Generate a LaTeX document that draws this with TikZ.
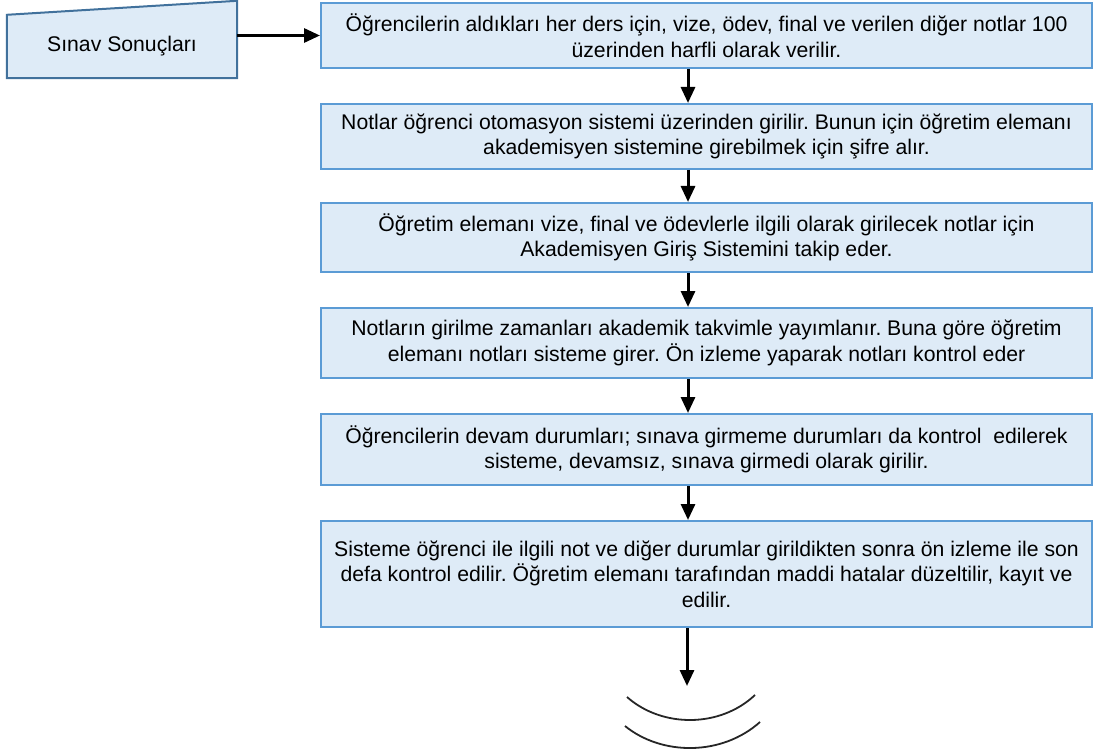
\documentclass[tikz,border=0pt]{standalone}
\usepackage{fontspec}
\setmainfont{Liberation Sans}
\usepackage{xcolor}
\usepackage{tikz}
\usetikzlibrary{arrows.meta,positioning,calc,backgrounds}

\definecolor{boxfill}{HTML}{DEEBF7}
\definecolor{boxline}{HTML}{5B9BD5}
\definecolor{inpline}{HTML}{41719C}
\frenchspacing

\begin{document}
\begin{tikzpicture}[
    x=1pt, y=1pt,
    font=\fontsize{21.2}{25.5}\selectfont,
    stepbox/.style={rectangle, draw=boxline, fill=boxfill, line width=2pt, align=center, minimum width=771pt, inner sep=4pt},
    inbox/.style={rectangle, align=center, minimum width=230pt, minimum height=63pt, inner sep=0pt},
    arrow/.style={-{Triangle[length=16pt, width=14pt]}, line width=3pt, draw=black}
]
    \useasboundingbox (0,0) rectangle (1094,-754);

    % manual input
    \node [inbox] (inp) at (122,-46.5) {S\i nav Sonuçları};
    \begin{scope}[on background layer]
        \filldraw [draw=inpline, fill=boxfill, line width=2pt] (inp.south west) -- (inp.south east) -- ($(inp.north east)+(0,14)$) -- (inp.north west) -- cycle;
    \end{scope}

    % process boxes
    \node [stepbox, minimum height=65pt] (b1) at (706.5,-35.5) {Öğrencilerin aldıkları her ders için, vize, ödev, final ve verilen diğer notlar 100\\üzerinden harfli olarak verilir.};
    \node [stepbox, minimum height=65pt, below=34pt of b1] (b2) {Notlar öğrenci otomasyon sistemi üzerinden girilir. Bunun için öğretim elemanı\\akademisyen sistemine girebilmek için şifre alır.};
    \node [stepbox, minimum height=69pt, below=32pt of b2] (b3) {Öğretim elemanı vize, final ve ödevlerle ilgili olarak girilecek notlar için\\Akademisyen Giriş Sistemini takip eder.};
    \node [stepbox, minimum height=70pt, below=34pt of b3] (b4) {Notların girilme zamanları akademik takvimle yayımlanır. Buna göre öğretim\\elemanı notları sisteme girer. Ön izleme yaparak notları kontrol eder};
    \node [stepbox, minimum height=71pt, below=34pt of b4] (b5) {Öğrencilerin devam durumları; sınava girmeme durumları da kontrol\ \ edilerek\\sisteme, devamsız, sınava girmedi olarak girilir.};
    \node [stepbox, minimum height=106pt, below=34pt of b5] (b6) {Sisteme öğrenci ile ilgili not ve diğer durumlar girildikten sonra ön izleme ile son\\defa kontrol edilir. Öğretim elemanı tarafından maddi hatalar düzeltilir, kayıt ve\\edilir.};

    \coordinate (ax) at (688,0);
    \coordinate (end) at (687,-686);

    \draw [arrow] (inp.east |- b1.west) -- (b1.west);
    \draw [arrow] (b1.south -| ax) -- (b2.north -| ax);
    \draw [arrow] (b2.south -| ax) -- (b3.north -| ax);
    \draw [arrow] (b3.south -| ax) -- (b4.north -| ax);
    \draw [arrow] (b4.south -| ax) -- (b5.north -| ax);
    \draw [arrow] (b5.south -| ax) -- (b6.north -| ax);
    \draw [arrow] (b6.south -| end) -- (end);

    % off-page mark
    \draw [line width=1.8pt, black!85] (627,-697) .. controls (662,-728) and (720,-728) .. (755,-695);
    \draw [line width=1.8pt, black!85] (625,-726) .. controls (662,-756) and (722,-756) .. (760,-722);
\end{tikzpicture}
\end{document}
